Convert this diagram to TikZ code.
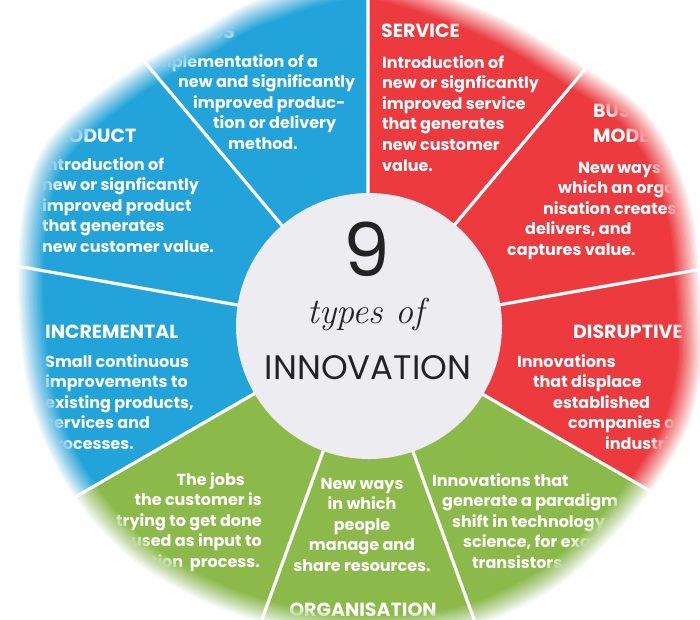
\documentclass[tikz,border=0pt]{standalone}
\usepackage{fontspec}
\newfontfamily\geo{Poppins}

\definecolor{pieblue}{HTML}{22A4DA}
\definecolor{piered}{HTML}{EC3A3F}
\definecolor{piegreen}{HTML}{8BBA4B}
\definecolor{hubgrey}{HTML}{EDECF1}
\definecolor{hubtext}{HTML}{232323}

% outline of the soft edge, around (366,-330)
\newcommand\rim{plot[smooth cycle, tension=0.55] coordinates {(331,0) (324,103) (304,170)
  (271,220) (214,260) (124,312) (0,352) (-106,326) (-162,296) (-226,260) (-290,212)
  (-324,170) (-340,110) (-343,30) (-336,-45) (-322,-98) (-298,-148) (-266,-192)
  (-222,-233) (-155,-270) (-80,-294) (0,-304) (100,-294) (184,-256) (244,-203)
  (287,-150) (317,-97) (330,-45)}}
% band colour washed over the text just inside the edge
\newcommand\veil[1]{\foreach \k in {1,...,8} {
  \pgfmathsetmacro\s{0.935+0.0057*(\k-1)}
  \pgfmathsetmacro\op{1/(9-\k)}
  \fill[#1, fill opacity=\op, even odd rule, shift={(366,-330)}, scale=\s]
    (-500,500) rectangle (500,-500) \rim;}}

\begin{document}
\begin{tikzpicture}[x=1pt, y=1pt,
  head/.style={text=white, inner sep=0pt, align=left, font=\geo\bfseries\fontsize{19}{25}\selectfont},
  txt/.style={text=white, inner sep=0pt, font=\geo\bfseries\fontsize{16}{20.6}\selectfont},
  divider/.style={white, line width=3.2pt}]

\useasboundingbox (0,0) rectangle (700,-619);
\coordinate (c) at (368,-328);

% ---- the three colour bands ----------------------------------------------------
\fill[pieblue]  (c) -- ++(90:440pt)   arc[start angle=90,   end angle=210, radius=440pt] -- cycle;
\fill[piered]   (c) -- ++(-30:440pt)  arc[start angle=-30,  end angle=90,  radius=440pt] -- cycle;
\fill[piegreen] (c) -- ++(-150:440pt) arc[start angle=-150, end angle=-30, radius=440pt] -- cycle;

% ---- blue: process, product, incremental ----------------------------------------
% (base anchor of a multi-line node = baseline of its last line)
\node[head, anchor=base east] (process) at (235,-38) {PROCESS};
\node[txt, anchor=base west, align=left] (process-txt) at (150,-149.4)
  {Implementation of a\\\hspace*{28pt}new and significantly\\\hspace*{43pt}improved produc-\\%
   \hspace*{63pt}tion or delivery\\\hspace*{78pt}method.};

\node[head, anchor=base west] (product) at (44,-142) {PRODUCT};
\node[txt, anchor=base west, align=left] (product-txt) at (42,-252.4)
  {Introduction of\\new or signficantly\\improved product\\that generates\\new customer value.};

\node[head, anchor=base west] (incr) at (45,-338) {INCREMENTAL};
\node[txt, anchor=base west, align=left] (incr-txt) at (45,-449.4)
  {Small continuous\\improvements to\\existing products,\\services and\\processes.};

% ---- red: service, business model, disruptive ------------------------------------
\node[head, anchor=base west] (service) at (381,-37) {SERVICE};
\node[txt, anchor=base west, align=left] (service-txt) at (382,-171)
  {Introduction of\\new or signficantly\\improved service\\that generates\\new customer\\value.};

\node[head, anchor=base west] (busmodel) at (593,-142) {BUSINESS\\MODEL};
\node[txt, anchor=base west, align=left] (busmodel-txt) at (507,-255.4)
  {\hspace*{71pt}New ways in\\\hspace*{51pt}which an orga-\\\hspace*{36pt}nisation creates,\\%
   \hspace*{18pt}delivers, and\\captures value.};

\node[head, anchor=base east] (disrupt) at (683,-338) {DISRUPTIVE};
\node[txt, anchor=base west, align=left] (disrupt-txt) at (517,-449.4)
  {Innovations\\\hspace*{16pt}that displace\\\hspace*{36pt}established\\%
   \hspace*{51pt}companies or\\\hspace*{88pt}industries.};

% ---- green: technology, organisation, customer ------------------------------------
\node[txt, anchor=base west, align=left] (radical-txt) at (432,-568.4)
  {Innovations that\\\hspace*{10pt}generate a paradigm\\\hspace*{20pt}shift in technology or\\%
   \hspace*{31pt}science, for example\\\hspace*{40pt}transistors.};

\node[txt, anchor=base, align=center] (org-txt) at (362,-571.4)
  {New ways\\in which\\people\\manage and\\share resources.};
\node[head, anchor=base] (org) at (363,-616) {ORGANISATION};

\node[txt, anchor=base east, align=right] (cust-txt) at (262,-567.4)
  {The jobs\hspace*{17pt}\\the customer is\\trying to get done\hspace*{7pt}\\%
   used as input to\hspace*{10pt}\\innovation\ \ process.\hspace*{2pt}};

% ---- text fades into its band near the edge ---------------------------------------
\begin{scope}
  \clip (c) -- ++(90:440pt) arc[start angle=90, end angle=210, radius=440pt] -- cycle;
  \veil{pieblue}
\end{scope}
\begin{scope}
  \clip (c) -- ++(-30:440pt) arc[start angle=-30, end angle=90, radius=440pt] -- cycle;
  \veil{piered}
\end{scope}
\begin{scope}
  \clip (c) -- ++(-150:440pt) arc[start angle=-150, end angle=-30, radius=440pt] -- cycle;
  \veil{piegreen}
\end{scope}

\draw[divider] (c) -- ++(90:440pt) (c) -- ++(50:440pt) (c) -- ++(10:440pt)
  (c) -- ++(-30:440pt) (c) -- ++(-70:440pt) (c) -- ++(-110:440pt)
  (c) -- ++(-150:440pt) (c) -- ++(170:440pt) (c) -- ++(130:440pt);

% ---- the hub -------------------------------------------------------------------
\node[circle, fill=hubgrey, minimum size=266pt, inner sep=0pt] (hub) at (369,-326) {};
\node[text=hubtext, inner sep=0pt, font=\geo\fontsize{74}{74}\selectfont] (nine) at (367,-249) {9};
\node[text=hubtext, inner sep=0pt, anchor=base, font=\itshape\fontsize{36}{36}\selectfont] (types) at (366,-323) {types of};
\node[text=hubtext, inner sep=0pt, anchor=base, font=\geo\fontsize{34}{34}\selectfont] (innov) at (368,-379) {INNOVATION};

% ---- soft white edge: linear ramp over 20 layers -------------------------------------
\foreach \k in {1,...,20} {
  \pgfmathsetmacro\s{0.94+0.0039*(\k-1)}
  \pgfmathsetmacro\op{1/(21-\k)}
  \fill[white, fill opacity=\op, even odd rule, shift={(366,-330)}, scale=\s]
    (-500,500) rectangle (500,-500) \rim;
}

\end{tikzpicture}
\end{document}
